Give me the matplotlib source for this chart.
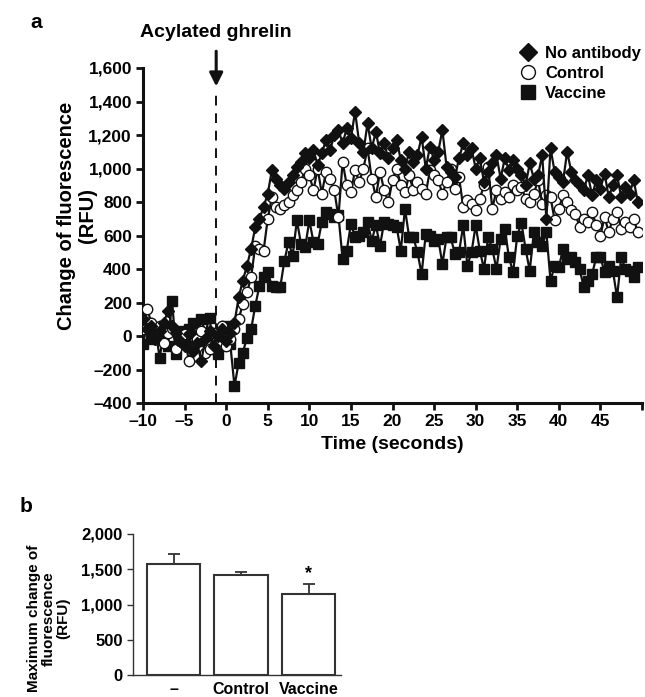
import numpy as np
import matplotlib
matplotlib.use("Agg")
import matplotlib.pyplot as plt
from matplotlib.lines import Line2D

plt.rcParams['font.family'] = ['Liberation Sans', 'DejaVu Sans']
plt.rcParams['font.weight'] = 'bold'

# ---------------- data: panel a ----------------
time_s = np.arange(-10, 50, 0.5)

no_antibody = [
    100, 40, 60, -20, 30, 80, 150, 60, 20, -30, -60, 10, -90, -40, -150, -20, 30, -60, 0, 40,
    -30, 20, 80, 230, 330, 420, 520, 650, 700, 770, 850, 990, 940, 900, 880, 920, 960, 1010, 1040, 1090,
    1060, 1110, 1020, 1090, 1170, 1110, 1200, 1230, 1150, 1240, 1180, 1340, 1150, 1100, 1270, 1120, 1220, 1090, 1150, 1060,
    1120, 1170, 1050, 1000, 1100, 1040, 1080, 1190, 1000, 1130, 1050, 1100, 1230, 1010, 980, 950, 1060, 1150, 1080, 1120,
    1000, 1060, 920, 980, 1030, 1080, 940, 1060, 990, 1050, 1000, 960, 900, 1030, 940, 960, 1080, 700, 1120, 980,
    950, 920, 1100, 980, 930, 900, 870, 960, 840, 930, 880, 970, 830, 900, 960, 830, 890, 850, 930, 800,
]

control = [
    40, 160, 80, -20, 60, -40, 20, 50, -80, -30, 10, -150, -60, -20, 30, -100, -80, 20, -40, 60,
    -60, -20, 40, 100, 190, 260, 350, 540, 520, 510, 700, 830, 770, 760, 780, 800, 840, 870, 920, 1000,
    960, 870, 1000, 850, 980, 940, 870, 710, 1040, 900, 860, 990, 920, 1000, 1120, 940, 830, 980, 870, 800,
    930, 1000, 900, 860, 960, 870, 920, 880, 850, 990, 960, 930, 850, 920, 1000, 880, 950, 770, 810, 790,
    750, 820, 900, 1010, 760, 870, 820, 860, 830, 900, 870, 890, 820, 800, 850, 930, 790, 840, 830, 690,
    760, 840, 800, 750, 730, 650, 700, 680, 740, 660, 600, 710, 620, 700, 740, 640, 680, 650, 700, 620,
]

vaccine = [
    -50, 80, -20, 40, -130, 20, -60, 210, -110, 30, -40, 40, 80, -30, 100, 20, 110, -80, -110, 40,
    60, -50, -300, -160, -100, -10, 40, 180, 300, 350, 380, 300, 290, 290, 450, 560, 480, 690, 550, 530,
    690, 560, 550, 680, 740, 730, 710, 720, 460, 510, 670, 590, 600, 620, 680, 570, 660, 540, 680, 670,
    660, 650, 510, 760, 590, 590, 500, 370, 610, 600, 570, 580, 430, 590, 590, 490, 500, 660, 420, 500,
    660, 510, 400, 590, 520, 400, 580, 640, 470, 380, 600, 675, 520, 390, 620, 560, 540, 620, 330, 420,
    410, 520, 460, 470, 440, 400, 290, 330, 370, 470, 470, 380, 420, 390, 230, 470, 400, 390, 350, 410,
]

ghrelin_time = -1.2
series_labels = ['No antibody', 'Control', 'Vaccine']

x_ticks = [-10, -5, 0, 5, 10, 15, 20, 25, 30, 35, 40, 45, 50]
x_ticklabels = ['\u201310', '\u20135', '0', '5', '10', '15', '20', '25', '30', '35', '40', '45', '']
y_ticks = [-400, -200, 0, 200, 400, 600, 800, 1000, 1200, 1400, 1600]
y_ticklabels = ['\u2013400', '\u2013200', '0', '200', '400', '600', '800', '1,000', '1,200', '1,400', '1,600']

# ---------------- data: panel b ----------------
bar_categories = ['\u2013', 'Control', 'Vaccine']
bar_values = [1572, 1416, 1147]
bar_errors = [142, 43, 142]
b_y_ticks = [0, 500, 1000, 1500, 2000]
b_y_ticklabels = ['0', '500', '1,000', '1,500', '2,000']

W, H = 645, 697
fig = plt.figure(figsize=(W / 100, H / 100), dpi=100)
INK = '#111111'

# ---------------- panel a ----------------
ax = fig.add_axes([143 / W, 1 - 403 / H, (642 - 143) / W, (403 - 68) / H])
ax.plot(time_s, vaccine, color=INK, lw=1.6, marker='s', ms=6.5,
        mfc=INK, mec=INK, zorder=3)
ax.plot(time_s, control, color=INK, lw=1.6, marker='o', ms=7.5,
        mfc='white', mec=INK, mew=1.0, zorder=4)
ax.plot(time_s, no_antibody, color=INK, lw=1.6, marker='D', ms=6,
        mfc=INK, mec=INK, zorder=5)

ax.set_xlim(-10, 50)
ax.set_ylim(-400, 1600)
ax.set_xticks(x_ticks)
ax.set_xticklabels(x_ticklabels, fontsize=12.5, fontweight='bold')
ax.set_yticks(y_ticks)
ax.set_yticklabels(y_ticklabels, fontsize=12.5, fontweight='bold')
for s in ['top', 'right']:
    ax.spines[s].set_visible(False)
for s in ['left', 'bottom']:
    ax.spines[s].set_linewidth(2.2)
    ax.spines[s].set_color(INK)
ax.tick_params(axis='both', direction='out', length=5, width=2, color=INK, pad=3)
ax.set_xlabel('Time (seconds)', fontsize=14, fontweight='bold', labelpad=5)

# y-axis label as two separate lines
fig.text(66 / W, 1 - 216 / H, 'Change of fluorescence', rotation=90, ha='center', va='center',
         fontsize=14.5, fontweight='bold')
fig.text(88 / W, 1 - 216 / H, '(RFU)', rotation=90, ha='center', va='center',
         fontsize=14.5, fontweight='bold')

ax.axvline(ghrelin_time, ymin=0, ymax=0.934, color=INK, lw=1.4, ls=(0, (5, 4)), zorder=1)
ax.annotate('', xy=(ghrelin_time, 1490), xytext=(ghrelin_time, 1700),
            xycoords='data', textcoords='data', annotation_clip=False,
            arrowprops=dict(arrowstyle='-|>', color=INK, lw=2.2, mutation_scale=20,
                            shrinkA=0, shrinkB=0))
ax.text(ghrelin_time, 1785, 'Acylated ghrelin', ha='center', va='baseline',
        fontsize=14, fontweight='bold', clip_on=False)

handles = [
    Line2D([], [], ls='none', marker='D', ms=9, mfc=INK, mec=INK),
    Line2D([], [], ls='none', marker='o', ms=10, mfc='white', mec=INK, mew=1.0),
    Line2D([], [], ls='none', marker='s', ms=10, mfc=INK, mec=INK),
]
fig.legend(handles, series_labels, loc='upper left', bbox_to_anchor=(520 / W, 1 - 46 / H),
           frameon=False, prop={'size': 12, 'weight': 'bold'}, handlelength=1.0,
           handletextpad=0.5, labelspacing=0.3, borderpad=0, borderaxespad=0)

fig.text(30 / W, 1 - 22 / H, 'a', fontsize=15, fontweight='bold', ha='left', va='center')

# ---------------- panel b ----------------
bx = fig.add_axes([133 / W, 1 - 675 / H, (341 - 133) / W, (675 - 534) / H])
pos = np.arange(len(bar_categories))
bx.bar(pos, bar_values, width=0.79, color='white', edgecolor='#333333', linewidth=1.5, zorder=2)
bx.errorbar(pos, bar_values, yerr=[np.zeros(len(bar_errors)), bar_errors], fmt='none',
            ecolor='#333333', elinewidth=1.3, capsize=4, capthick=1.3, zorder=1)
bx.text(pos[2], bar_values[2] + bar_errors[2] + 30, '*', ha='center', va='bottom',
        fontsize=13, fontweight='bold')
bx.set_xlim(-0.6, 2.48)
bx.set_ylim(0, 2000)
bx.set_yticks(b_y_ticks)
bx.set_yticklabels(b_y_ticklabels, fontsize=12, fontweight='bold')
bx.set_xticks(pos)
bx.set_xticklabels(bar_categories, fontsize=11.5, fontweight='bold')
bx.tick_params(axis='x', length=0, pad=5)
bx.tick_params(axis='y', direction='out', length=4, width=1, color='#333333')
for s in ['top', 'right']:
    bx.spines[s].set_visible(False)
for s in ['left', 'bottom']:
    bx.spines[s].set_linewidth(1.0)
    bx.spines[s].set_color('#333333')
bx.set_ylabel('Maximum change of\nfluorescence\n(RFU)', fontsize=11, fontweight='bold',
              linespacing=1.05)
bx.yaxis.set_label_coords(-0.30, 0.40)

fig.text(20 / W, 1 - 507 / H, 'b', fontsize=15, fontweight='bold', ha='left', va='center')

fig.savefig('out.png', dpi=100)
